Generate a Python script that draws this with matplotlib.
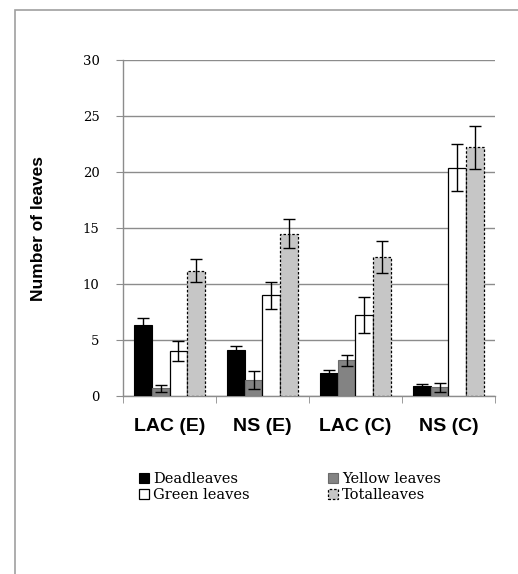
import numpy as np
import matplotlib.pyplot as plt
from matplotlib.patches import Rectangle

# leaf counts per treatment (mean and error)
groups = ["LAC (E)", "NS (E)", "LAC (C)", "NS (C)"]
dead = [6.3, 4.1, 2.1, 0.9]
dead_err = [0.7, 0.4, 0.2, 0.2]
yellow = [0.7, 1.4, 3.2, 0.8]
yellow_err = [0.3, 0.8, 0.5, 0.4]
green = [4.0, 9.0, 7.2, 20.4]
green_err = [0.9, 1.2, 1.6, 2.1]
total = [11.2, 14.5, 12.4, 22.2]
total_err = [1.0, 1.3, 1.4, 1.9]

labels = ["Deadleaves", "Yellow leaves", "Green leaves", "Totalleaves"]

fig = plt.figure(figsize=(5.18, 5.74), dpi=100)
ax = fig.add_axes([0.2375, 0.31, 0.718, 0.5855])

# outer frame around the chart area
fig.patches.append(Rectangle((15 / 518, -0.1), 1.2, 1.1 - 10 / 574,
                             transform=fig.transFigure, fill=False,
                             edgecolor="#a0a0a0", linewidth=1.2))

x = np.arange(len(groups))
w = 0.19
ekw = dict(ecolor="black", elinewidth=1.0, capsize=4.5, capthick=1.0)

b1 = ax.bar(x - 1.5 * w, dead, w, yerr=dead_err, color="black",
            edgecolor="black", linewidth=0.8, error_kw=ekw, zorder=3)
b2 = ax.bar(x - 0.5 * w, yellow, w, yerr=yellow_err, color="#838383",
            edgecolor="#6a6a6a", linewidth=0.8, error_kw=ekw, zorder=3)
b3 = ax.bar(x + 0.5 * w, green, w, yerr=green_err, color="white",
            edgecolor="black", linewidth=0.9, error_kw=ekw, zorder=3)
b4 = ax.bar(x + 1.5 * w, total, w, yerr=total_err, color="#c6c6c6",
            edgecolor="black", linewidth=0.9, linestyle=(0, (2, 1.5)),
            error_kw=ekw, zorder=3)

ax.set_xlim(-0.5, 3.5)
ax.set_ylim(0, 30)
ax.set_yticks(np.arange(0, 31, 5))
ax.yaxis.grid(True, color="#8c8c8c", linewidth=1.0)
ax.set_axisbelow(True)

for s in ["top", "right"]:
    ax.spines[s].set_visible(False)
for s in ["left", "bottom"]:
    ax.spines[s].set_color("#8c8c8c")
    ax.spines[s].set_linewidth(1.0)

ax.set_xticks(x)
ax.set_xticklabels(groups, fontsize=14, fontweight="bold",
                   family="Liberation Sans")
ax.set_xticks(np.arange(-0.5, 3.6, 1), minor=True)
ax.tick_params(axis="x", which="major", length=0, pad=16)
ax.tick_params(axis="x", which="minor", length=5, color="#8c8c8c",
               direction="out")
ax.tick_params(axis="y", length=5, color="#8c8c8c", pad=12)
for t in ax.get_yticklabels():
    t.set_family("DejaVu Serif")
    t.set_fontsize(9.5)

ax.set_ylabel("Number of leaves", fontsize=12.5, fontweight="bold",
              family="Liberation Sans", labelpad=26)

handles = [b1, b3, b2, b4]
names = [labels[0], labels[2], labels[1], labels[3]]
fig.legend(handles, names, loc="upper left", bbox_to_anchor=(0.243, 0.2),
           ncol=2, frameon=False, handlelength=0.7, handleheight=0.7,
           handletextpad=0.25, columnspacing=5.4, labelspacing=0.12,
           prop={"family": "DejaVu Serif", "size": 10.5})

fig.savefig("out.png", dpi=100)
